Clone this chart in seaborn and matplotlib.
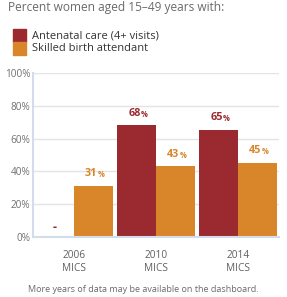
import matplotlib
matplotlib.use("Agg")
import matplotlib.pyplot as plt
import seaborn as sns
import pandas as pd
import numpy as np

years = ["2006", "2010", "2014"]
survey = ["MICS", "MICS", "MICS"]
series = ["Antenatal care (4+ visits)", "Skilled birth attendant"]
antenatal = [np.nan, 68, 65]
skilled = [31, 43, 45]
colors = ["#9A2A30", "#D9862B"]
yticks = [0, 20, 40, 60, 80, 100]

rows = []
for i, y in enumerate(years):
    rows.append({"year": y, "series": series[0], "value": antenatal[i]})
    rows.append({"year": y, "series": series[1], "value": skilled[i]})
df = pd.DataFrame(rows)

sns.set_style("white")
plt.rcParams["font.family"] = ["Open Sans", "DejaVu Sans"]

fig = plt.figure(figsize=(2.87, 2.97), dpi=100)
ax = fig.add_axes([33/287, 1-237/297, (279-33)/287, (237-73)/297])

sns.barplot(data=df, x="year", y="value", hue="series", palette=colors,
            width=0.94, saturation=1, ax=ax, legend=False, order=years,
            hue_order=series, linewidth=0, edgecolor="none")

ax.set_xlim(-0.5, 2.5)
ax.set_ylim(0, 100)
ax.set_yticks(yticks)
ax.set_yticklabels([f"{t}%" for t in yticks], color="#707070", fontsize=7.2)
ax.yaxis.grid(True, color="#e4e4e4", linewidth=1)
ax.set_axisbelow(True)
ax.tick_params(axis="y", length=0, pad=2)

ax.set_xticks(range(3))
ax.set_xticklabels([f"{y}\n{s}" for y, s in zip(years, survey)],
                   color="#606060", fontsize=7.3, linespacing=1.35)
ax.set_xticks([-0.5, 0.5, 1.5, 2.5], minor=True)
ax.tick_params(axis="x", which="major", length=0, pad=9)
ax.tick_params(axis="x", which="minor", length=8, color="#d3dcec", width=1)
ax.set_xlabel("")
ax.set_ylabel("")

for s in ["top", "right"]:
    ax.spines[s].set_visible(False)
ax.spines["left"].set_color("#d3dcec")
ax.spines["left"].set_linewidth(1.5)
ax.spines["bottom"].set_color("#d3dcec")
ax.spines["bottom"].set_linewidth(1.5)

bw = 0.47
for j, (vals, col) in enumerate(zip([antenatal, skilled], colors)):
    for i, v in enumerate(vals):
        xc = i + (j - 0.5) * bw
        if np.isnan(v):
            ax.annotate("-", (xc, 0), xytext=(0, 2), textcoords="offset points",
                        ha="center", va="bottom", color=col, fontsize=9,
                        fontweight="bold")
            continue
        ax.annotate(f"{int(v)}", (xc, v), xytext=(3, 5), textcoords="offset points",
                    ha="right", va="bottom", color=col, fontsize=7.8,
                    fontweight="bold")
        ax.annotate("%", (xc, v), xytext=(3, 5), textcoords="offset points",
                    ha="left", va="bottom", color=col, fontsize=5.5,
                    fontweight="bold")

fig.text(8/287, 1-8/297, "Percent women aged 15\u201349 years with:",
         ha="left", va="center", color="#6a6a6a", fontsize=8.6)
for k, (lab, col) in enumerate(zip(series, colors)):
    ytop = 29 + k * 13
    fig.patches.append(plt.Rectangle((13/287, 1-(ytop+13)/297), 13/287, 13/297,
                                     transform=fig.transFigure, color=col))
    fig.text(32/287, 1-(ytop+6.5)/297, lab, ha="left", va="center",
             color="#333333", fontsize=8)

fig.text(143/287, 1-290/297, "More years of data may be available on the dashboard.",
         ha="center", va="center", color="#6a6a6a", fontsize=6.5)

fig.savefig("out.png", dpi=100)
